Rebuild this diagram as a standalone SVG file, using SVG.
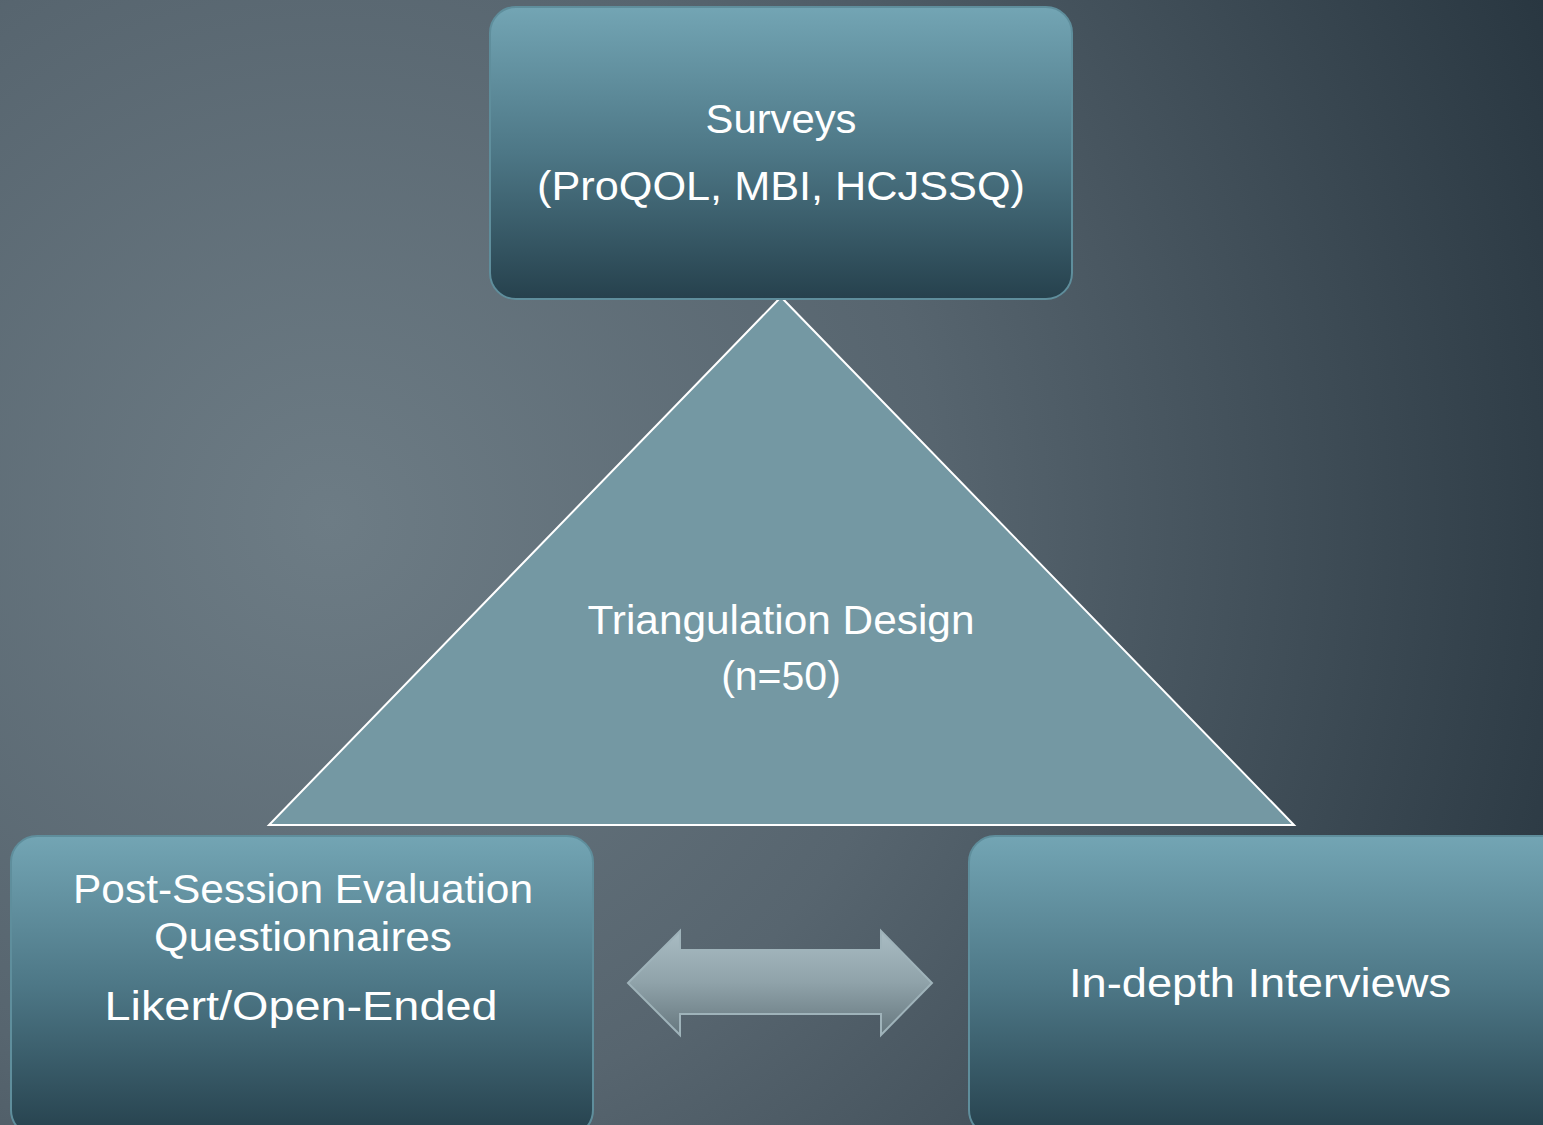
<svg xmlns="http://www.w3.org/2000/svg" width="1543" height="1125" viewBox="0 0 1543 1125">
<defs>
<radialGradient id="bg" cx="330" cy="520" r="1350" gradientUnits="userSpaceOnUse">
<stop offset="0" stop-color="#6d7c85"/>
<stop offset="0.45" stop-color="#57656f"/>
<stop offset="1" stop-color="#27353f"/>
</radialGradient>
<linearGradient id="box" x1="0" y1="0" x2="0" y2="1">
<stop offset="0" stop-color="#73a5b4"/>
<stop offset="0.5" stop-color="#4d7786"/>
<stop offset="1" stop-color="#26414d"/>
</linearGradient>
<linearGradient id="arr" x1="0" y1="0" x2="0" y2="1">
<stop offset="0" stop-color="#a9bcc3"/>
<stop offset="0.5" stop-color="#8fa2a9"/>
<stop offset="1" stop-color="#66777e"/>
</linearGradient>
<style>
.box{fill:url(#box);stroke:#5f8e9c;stroke-width:2}
.t{font-family:"Liberation Sans",Arial,sans-serif;fill:#ffffff;text-anchor:middle;font-size:41px}
</style>
</defs>
<rect width="1543" height="1125" fill="url(#bg)"/>
<g id="triangle">
<polygon points="781,297 269,825 1294,825" fill="#7498a3" stroke="#ffffff" stroke-width="2"/>
<text class="t" x="781" y="634" font-size="38" textLength="387" lengthAdjust="spacingAndGlyphs">Triangulation Design</text>
<text class="t" x="781" y="690" font-size="38">(n=50)</text>
</g>
<g id="surveys">
<rect class="box" x="490" y="7" width="582" height="292" rx="26"/>
<text class="t" x="781" y="133" textLength="151" lengthAdjust="spacingAndGlyphs">Surveys</text>
<text class="t" x="781" y="200" textLength="488" lengthAdjust="spacingAndGlyphs">(ProQOL, MBI, HCJSSQ)</text>
</g>
<g id="post-session">
<rect class="box" x="11" y="836" width="582" height="300" rx="26"/>
<text class="t" x="303" y="903" textLength="460" lengthAdjust="spacingAndGlyphs">Post-Session Evaluation</text>
<text class="t" x="303" y="951" textLength="298" lengthAdjust="spacingAndGlyphs">Questionnaires</text>
<text class="t" x="301" y="1020" textLength="393" lengthAdjust="spacingAndGlyphs">Likert/Open-Ended</text>
</g>
<g id="interviews">
<rect class="box" x="969" y="836" width="600" height="300" rx="26"/>
<text class="t" x="1260" y="997" textLength="382" lengthAdjust="spacingAndGlyphs">In-depth Interviews</text>
</g>
<g id="connectors">
<polygon points="628,983 680,931 680,950 881,950 881,931 932,983 881,1035 881,1014 680,1014 680,1035" fill="url(#arr)" stroke="#9fb3ba" stroke-width="2"/>
</g>
</svg>
